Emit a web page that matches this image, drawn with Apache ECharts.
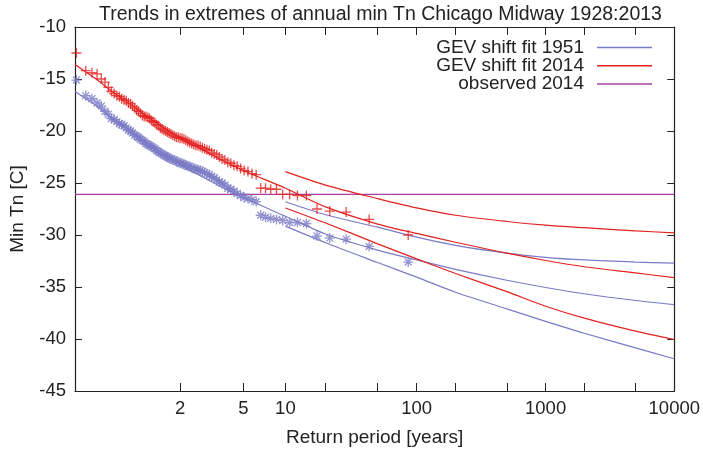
<!DOCTYPE html>
<html>
<head>
<meta charset="utf-8">
<script src="https://cdn.jsdelivr.net/npm/echarts@6/dist/echarts.min.js"></script>
<style>html,body{margin:0;padding:0;background:#fff}#c{width:703px;height:452px}</style>
</head>
<body>
<div id="c"></div>
<script>
// ---- data (return periods in years, values in deg C) ----
const periods = [86, 43, 28.67, 21.5, 17.2, 14.33, 12.29, 10.75, 9.556, 8.6,
  7.818, 7.167, 6.615, 6.143, 5.733, 5.375, 5.059, 4.778, 4.526, 4.3,
  4.095, 3.909, 3.739, 3.583, 3.44, 3.308, 3.185, 3.071, 2.966, 2.867,
  2.774, 2.6875, 2.606, 2.529, 2.457, 2.389, 2.324, 2.263, 2.205, 2.15,
  2.098, 2.048, 2.0, 1.955, 1.911, 1.870, 1.830, 1.792, 1.755, 1.72,
  1.686, 1.654, 1.623, 1.593, 1.564, 1.536, 1.509, 1.483, 1.458, 1.433,
  1.410, 1.387, 1.365, 1.344, 1.323, 1.303, 1.284, 1.265, 1.246, 1.229,
  1.211, 1.194, 1.178, 1.162, 1.147, 1.132, 1.117, 1.103, 1.089, 1.075,
  1.062, 1.049, 1.036, 1.024, 1.012];
const obs2014 = [-30.0, -28.5, -27.8, -27.7, -27.5, -26.2, -26.2, -26.1, -26.1, -25.6,
  -25.6, -25.5, -25.5, -24.2, -24.1, -23.9, -23.8, -23.6, -23.4, -23.3,
  -23.1, -23.0, -22.8, -22.7, -22.5, -22.3, -22.2, -22.1, -21.9, -21.8,
  -21.7, -21.6, -21.5, -21.4, -21.4, -21.3, -21.2, -21.1, -21.0, -20.9,
  -20.8, -20.7, -20.7, -20.6, -20.6, -20.5, -20.4, -20.3, -20.2, -20.1,
  -20.0, -19.9, -19.8, -19.7, -19.5, -19.4, -19.2, -19.1, -19.0, -18.8,
  -18.7, -18.6, -18.6, -18.5, -18.3, -18.1, -18.0, -17.8, -17.6, -17.4,
  -17.3, -17.1, -17.0, -16.9, -16.7, -16.6, -16.4, -16.2, -15.8, -15.3,
  -15.0, -14.5, -14.4, -14.2, -12.5];
const obs1951 = [-32.6, -31.1, -30.4, -30.3, -30.1, -28.9, -28.8, -28.8, -28.6, -28.5,
  -28.4, -28.3, -28.1, -26.8, -26.6, -26.5, -26.4, -26.2, -26.0, -25.8,
  -25.6, -25.5, -25.2, -25.0, -24.9, -24.7, -24.5, -24.4, -24.2, -24.1,
  -24.0, -23.9, -23.8, -23.7, -23.7, -23.6, -23.5, -23.4, -23.4, -23.3,
  -23.2, -23.1, -23.1, -23.0, -22.9, -22.8, -22.8, -22.7, -22.6, -22.5,
  -22.4, -22.3, -22.2, -22.1, -22.0, -21.9, -21.7, -21.6, -21.5, -21.4,
  -21.3, -21.2, -21.0, -20.9, -20.8, -20.6, -20.5, -20.4, -20.2, -20.0,
  -19.9, -19.7, -19.5, -19.4, -19.3, -19.1, -18.9, -18.8, -18.4, -18.1,
  -17.6, -17.3, -16.9, -16.6, -15.1];

const fitT = [1.0107, 1.05, 1.1, 1.2, 1.5, 2, 3, 5, 10, 20, 50, 100, 200, 500, 1000, 2000, 5000, 10000];
const fit2014 = [-13.6, -15.1, -16.1, -17.2, -19.1, -20.65, -22.2, -23.8, -25.5, -27.3, -28.95, -29.85, -30.7, -31.75, -32.45, -33.05, -33.65, -34.1];
const fit1951 = [-16.2, -17.65, -18.7, -19.8, -21.7, -23.25, -24.8, -26.4, -28.2, -29.9, -31.45, -32.4, -33.3, -34.35, -35.05, -35.65, -36.3, -36.7];

const boundT = [10, 20, 50, 100, 200, 500, 1000, 2000, 5000, 10000];
const hi2014 = [-23.9, -25.2, -26.5, -27.4, -28.1, -28.7, -29.05, -29.3, -29.6, -29.8];
const lo2014 = [-27.4, -28.85, -30.85, -32.3, -33.7, -35.45, -36.85, -38.0, -39.25, -40.05];
const hi1951 = [-26.8, -28.05, -29.25, -30.2, -31.0, -31.75, -32.15, -32.4, -32.6, -32.7];
const lo1951 = [-29.15, -30.75, -32.65, -34.05, -35.5, -37.1, -38.3, -39.45, -40.85, -41.9];

const observed2014 = -26.1;
const xRangeT = [1.0107, 10000];

const tickT = [2, 5, 10, 20, 50, 100, 200, 500, 1000, 2000, 5000, 10000];
const labelT = [2, 5, 10, 100, 1000, 10000];
const labelText = ['2', '5', '10', '100', '1000', '10000'];

const titleText = 'Trends in extremes of annual min Tn Chicago Midway 1928:2013';
const xName = 'Return period [years]';
const yName = 'Min Tn [C]';
const names = ['GEV shift fit 1951', 'GEV shift fit 2014', 'observed 2014'];

// ---- build ----
const gum = T => -Math.log(-Math.log(1 - 1 / T));   // Gumbel reduced variate
const pairs = (ts, vs) => ts.map((t, i) => [gum(t), vs[i]]);

const RED = '#e3211f', BLUE = '#7a7bc6', PURPLE = '#a8409f';
const FONT = '"Liberation Sans", Arial, Helvetica, sans-serif';
const plusPath = 'path://M5,0 L5,10 M0,5 L10,5';
const starPath = 'path://M5,0 L5,10 M0,5 L10,5 M1.5,1.5 L8.5,8.5 M8.5,1.5 L1.5,8.5';

const xmin = gum(xRangeT[0]), xmax = gum(xRangeT[1]);
const tickVals = tickT.map(gum);
const labelVals = labelT.map(gum);

function lineSeries(name, data, color) {
  return { type: 'line', name, data, showSymbol: false, symbol: 'none', smooth: 0.3,
    lineStyle: { color, width: 1.2 }, itemStyle: { color }, z: 3, silent: true };
}

const axisCommon = {
  axisLine: { show: true, onZero: false, lineStyle: { color: '#222', width: 1.2 } },
  splitLine: { show: false }
};

const chart = echarts.init(document.getElementById('c'), null, { renderer: 'canvas' });
chart.setOption({
  animation: false,
  backgroundColor: '#fff',
  title: { text: titleText, left: 94, top: 0,
    textStyle: { fontFamily: FONT, fontSize: 19.5, fontWeight: 'normal', color: '#222' } },
  grid: { left: 75, right: 27, top: 27, bottom: 57 },
  legend: {
    orient: 'vertical', right: 46, top: 33, align: 'right', itemGap: -1,
    itemWidth: 55, itemHeight: 1.5, icon: 'rect',
    textStyle: { fontFamily: FONT, fontSize: 19, color: '#222', lineHeight: 19.2, padding: [0, 8, 0, 0] },
    data: [
      { name: names[0], itemStyle: { color: BLUE } },
      { name: names[1], itemStyle: { color: RED } },
      { name: names[2], itemStyle: { color: PURPLE } }
    ],
    selectedMode: false
  },
  xAxis: [
    Object.assign({}, axisCommon, {
      type: 'value', min: xmin, max: xmax, position: 'bottom',
      name: xName, nameLocation: 'middle', nameGap: 37,
      nameTextStyle: { fontFamily: FONT, fontSize: 19, color: '#222' },
      axisTick: { show: true, inside: true, length: 8, customValues: tickVals, lineStyle: { color: '#222' } },
      axisLabel: { show: true, customValues: labelVals, margin: 8,
        fontFamily: FONT, fontSize: 18.5, color: '#222',
        formatter: v => {
          let best = 0, bd = Infinity;
          labelVals.forEach((lv, i) => { const d = Math.abs(lv - v); if (d < bd) { bd = d; best = i; } });
          return labelText[best];
        } }
    }),
    Object.assign({}, axisCommon, {
      type: 'value', min: xmin, max: xmax, position: 'top',
      axisTick: { show: true, inside: true, length: 8, customValues: tickVals, lineStyle: { color: '#222' } },
      axisLabel: { show: false }
    })
  ],
  yAxis: [
    Object.assign({}, axisCommon, {
      type: 'value', min: -45, max: -10, interval: 5, position: 'left',
      name: yName, nameLocation: 'middle', nameGap: 48,
      nameTextStyle: { fontFamily: FONT, fontSize: 19, color: '#222' },
      axisTick: { show: true, inside: true, length: 7, lineStyle: { color: '#222' } },
      axisLabel: { margin: 9, fontFamily: FONT, fontSize: 18.5, color: '#222' }
    }),
    Object.assign({}, axisCommon, {
      type: 'value', min: -45, max: -10, interval: 5, position: 'right',
      axisTick: { show: true, inside: true, length: 7, lineStyle: { color: '#222' } },
      axisLabel: { show: false }
    })
  ],
  series: [
    { type: 'line', name: names[2], data: [[xmin, observed2014], [xmax, observed2014]],
      symbol: 'none', lineStyle: { color: PURPLE, width: 1.2 }, itemStyle: { color: PURPLE }, z: 2, silent: true },
    lineSeries(names[0], pairs(fitT, fit1951), BLUE),
    lineSeries(names[0], pairs(boundT, hi1951), BLUE),
    lineSeries(names[0], pairs(boundT, lo1951), BLUE),
    lineSeries(names[1], pairs(fitT, fit2014), RED),
    lineSeries(names[1], pairs(boundT, hi2014), RED),
    lineSeries(names[1], pairs(boundT, lo2014), RED),
    { type: 'scatter', name: 'obs1951', data: pairs(periods, obs1951), symbol: starPath, symbolSize: 10,
      clip: false, itemStyle: { color: 'rgba(0,0,0,0)', borderColor: BLUE, borderWidth: 1.3 }, z: 4, silent: true },
    { type: 'scatter', name: 'obs2014', data: pairs(periods, obs2014), symbol: plusPath, symbolSize: 10,
      clip: false, itemStyle: { color: 'rgba(0,0,0,0)', borderColor: RED, borderWidth: 1.3 }, z: 4, silent: true }
  ]
});
</script>
</body>
</html>
